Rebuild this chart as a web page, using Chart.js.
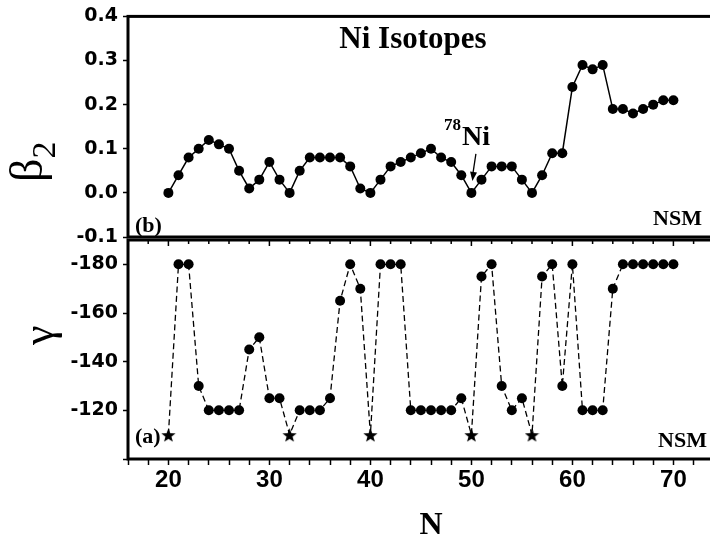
<!DOCTYPE html>
<html>
<head>
<meta charset="utf-8">
<script src="https://cdn.jsdelivr.net/npm/chart.js@4"></script>
<style>
    html, body { margin: 0; padding: 0; background: #fff; overflow: hidden; }
    #wrap { position: relative; width: 710px; height: 546px; overflow: hidden; }
    #wrap canvas { position: absolute; left: 0; top: 0; }
</style>
</head>
<body>
<div id="wrap">
    <canvas id="chart-gamma" width="750" height="546"></canvas>
    <canvas id="chart-beta" width="750" height="546"></canvas>
</div>
<script>
/* Ni isotopes — deformation beta2 (top) and gamma (bottom) vs neutron number */

const NEUTRONS = [20, 21, 22, 23, 24, 25, 26, 27, 28, 29,
                  30, 31, 32, 33, 34, 35, 36, 37, 38, 39,
                  40, 41, 42, 43, 44, 45, 46, 47, 48, 49,
                  50, 51, 52, 53, 54, 55, 56, 57, 58, 59,
                  60, 61, 62, 63, 64, 65, 66, 67, 68, 69, 70];

const BETA2 = [0.00, 0.04, 0.08, 0.10, 0.12, 0.11, 0.10, 0.05, 0.01, 0.03,
               0.07, 0.03, 0.00, 0.05, 0.08, 0.08, 0.08, 0.08, 0.06, 0.01,
               0.00, 0.03, 0.06, 0.07, 0.08, 0.09, 0.10, 0.08, 0.07, 0.04,
               0.00, 0.03, 0.06, 0.06, 0.06, 0.03, 0.00, 0.04, 0.09, 0.09,
               0.24, 0.29, 0.28, 0.29, 0.19, 0.19, 0.18, 0.19, 0.20, 0.21, 0.21];

const GAMMA = [-110, -180, -180, -130, -120, -120, -120, -120, -145, -150,
               -125, -125, -110, -120, -120, -120, -125, -165, -180, -170,
               -110, -180, -180, -180, -120, -120, -120, -120, -120, -125,
               -110, -175, -180, -130, -120, -125, -110, -175, -180, -130,
               -180, -120, -120, -120, -170, -180, -180, -180, -180, -180, -180];

// spherical (magic) points drawn as stars
const STAR_N = [20, 32, 40, 50, 56];

const X_LABELS = [20, 30, 40, 50, 60, 70];
const BETA_LABELS = [-0.1, 0.0, 0.1, 0.2, 0.3, 0.4];
const GAMMA_LABELS = [-180, -160, -140, -120];

const SERIF = '"Liberation Serif", "Times New Roman", serif';

// ─── helpers ───────────────────────────────────────────────

function makeStar(size) {
    const c = document.createElement('canvas');
    c.width = c.height = size;
    const g = c.getContext('2d');
    const R = size / 2, r = R * 0.42;
    g.beginPath();
    for (let i = 0; i < 10; i++) {
        const a = -Math.PI / 2 + i * Math.PI / 5;
        const rad = i % 2 ? r : R;
        g.lineTo(R + rad * Math.cos(a), R + 1 + rad * Math.sin(a));
    }
    g.closePath();
    g.fillStyle = '#000';
    g.fill();
    return c;
}

function rotatedText(ctx, text, font, x, y) {
    ctx.save();
    ctx.translate(x, y);
    ctx.rotate(-Math.PI / 2);
    ctx.font = font;
    ctx.textAlign = 'left';
    ctx.textBaseline = 'alphabetic';
    ctx.fillText(text, 0, 0);
    const w = ctx.measureText(text).width;
    ctx.restore();
    return w;
}

const frame = {
    id: 'frame',
    afterDraw(chart) {
        const { ctx, chartArea: a } = chart;
        ctx.save();
        ctx.strokeStyle = '#000';
        ctx.lineWidth = 3;
        ctx.strokeRect(a.left, a.top, a.right - a.left, a.bottom - a.top);
        ctx.restore();
    }
};

const betaNotes = {
    id: 'betaNotes',
    afterDraw(chart) {
        const { ctx } = chart;
        const xs = chart.scales.x, ys = chart.scales.y;
        ctx.save();
        ctx.fillStyle = '#000';
        ctx.strokeStyle = '#000';

        ctx.textAlign = 'center';
        ctx.textBaseline = 'alphabetic';
        ctx.font = 'bold 31px ' + SERIF;
        ctx.fillText('Ni Isotopes', 413, 48);

        ctx.textAlign = 'left';
        ctx.font = 'bold 17px ' + SERIF;
        ctx.fillText('78', 444, 130);
        ctx.font = 'bold 28px ' + SERIF;
        ctx.fillText('Ni', 462, 145);

        // arrow to the 78Ni point
        const tx = xs.getPixelForValue(50) + 1;
        const ty = ys.getPixelForValue(0) - 12;
        const sx = tx + 3.5, sy = ty - 27;
        ctx.lineWidth = 1.3;
        ctx.beginPath();
        ctx.moveTo(sx, sy);
        ctx.lineTo(tx, ty - 4);
        ctx.stroke();
        const ang = Math.atan2(ty - sy, tx - sx);
        ctx.beginPath();
        ctx.moveTo(tx, ty);
        ctx.lineTo(tx - 9 * Math.cos(ang) + 3.5 * Math.sin(ang), ty - 9 * Math.sin(ang) - 3.5 * Math.cos(ang));
        ctx.lineTo(tx - 9 * Math.cos(ang) - 3.5 * Math.sin(ang), ty - 9 * Math.sin(ang) + 3.5 * Math.cos(ang));
        ctx.closePath();
        ctx.fill();

        ctx.font = 'bold 22px ' + SERIF;
        ctx.fillText('(b)', 135, 232);
        ctx.textAlign = 'right';
        ctx.fillText('NSM', 702, 225);

        // axis title beta_2
        const w = rotatedText(ctx, 'β', '46px ' + SERIF, 42, 182);
        rotatedText(ctx, '2', '34px ' + SERIF, 55, 182 - w);
        ctx.restore();
    }
};

const gammaNotes = {
    id: 'gammaNotes',
    afterDraw(chart) {
        const { ctx, chartArea: a } = chart;
        const xs = chart.scales.x;
        ctx.save();
        ctx.fillStyle = '#000';
        ctx.strokeStyle = '#000';

        // inward ticks on the upper edge
        ctx.lineWidth = 1.5;
        xs.ticks.forEach(t => {
            const px = xs.getPixelForValue(t.value);
            const len = t.value % 10 === 0 ? 6 : 4;
            ctx.beginPath();
            ctx.moveTo(px, a.top);
            ctx.lineTo(px, a.top + len);
            ctx.stroke();
        });

        ctx.textBaseline = 'alphabetic';
        ctx.font = 'bold 22px ' + SERIF;
        ctx.textAlign = 'left';
        ctx.fillText('(a)', 135, 443);
        ctx.textAlign = 'right';
        ctx.fillText('NSM', 707, 447);

        rotatedText(ctx, 'γ', '44px ' + SERIF, 53, 345);
        ctx.restore();
    }
};

const fixedY = scale => { scale.width = 128; };

// ─── beta_2 panel ──────────────────────────────────────────

new Chart(document.getElementById('chart-beta'), {
    type: 'line',
    data: {
        datasets: [{
            data: NEUTRONS.map((n, i) => ({ x: n, y: BETA2[i] })),
            borderColor: '#000',
            borderWidth: 1.5,
            backgroundColor: '#000',
            pointRadius: 5,
            pointBorderWidth: 0,
            pointBackgroundColor: '#000',
            tension: 0,
        }]
    },
    options: {
        responsive: false,
        animation: false,
        events: [],
        layout: { padding: { top: 15, bottom: 309, left: 0, right: 16 } },
        plugins: { legend: { display: false }, tooltip: { enabled: false } },
        scales: {
            x: { type: 'linear', min: 16, max: 76, display: false },
            y: {
                min: -0.1, max: 0.4,
                afterFit: fixedY,
                border: { display: false },
                grid: { drawOnChartArea: false, drawTicks: true, tickLength: 5, tickWidth: 1.5, tickColor: '#000' },
                ticks: {
                    stepSize: 0.05,
                    padding: 5,
                    color: '#000',
                    font: { family: '"DejaVu Sans", sans-serif', size: 19, weight: 'bold' },
                    callback: v => {
                        const r = Math.round(v * 100);
                        return r % 10 === 0 && BETA_LABELS.includes(r / 100) ? (r / 100).toFixed(1) : '';
                    },
                },
            },
        },
    },
    plugins: [frame, betaNotes],
});

// ─── gamma panel ───────────────────────────────────────────

const star = makeStar(15);

new Chart(document.getElementById('chart-gamma'), {
    type: 'line',
    data: {
        datasets: [{
            data: NEUTRONS.map((n, i) => ({ x: n, y: GAMMA[i] })),
            borderColor: '#000',
            borderWidth: 1.3,
            borderDash: [6, 3.5],
            backgroundColor: '#000',
            pointRadius: 5,
            pointBorderWidth: 0,
            pointBackgroundColor: '#000',
            pointStyle: c => STAR_N.includes(NEUTRONS[c.dataIndex]) ? star : 'circle',
            tension: 0,
        }]
    },
    options: {
        responsive: false,
        animation: false,
        events: [],
        layout: { padding: { top: 240, bottom: 0, left: 0, right: 16 } },
        plugins: { legend: { display: false }, tooltip: { enabled: false } },
        scales: {
            x: {
                type: 'linear', min: 16, max: 76,
                afterFit: scale => { scale.height = 87; },
                border: { display: false },
                grid: { drawOnChartArea: false, drawTicks: true, tickLength: 6, tickWidth: 1.5, tickColor: '#000' },
                ticks: {
                    stepSize: 2,
                    autoSkip: false,
                    maxRotation: 0,
                    padding: 1,
                    color: '#000',
                    font: { family: '"Liberation Sans", Arial, sans-serif', size: 24, weight: 'bold' },
                    callback: v => X_LABELS.includes(v) ? String(v) : '',
                },
                title: {
                    display: true,
                    text: 'N',
                    color: '#000',
                    font: { family: SERIF, size: 32, weight: 'bold' },
                    padding: { top: 0, bottom: 1 },
                },
            },
            y: {
                min: -190, max: -100,
                reverse: true,
                afterFit: fixedY,
                border: { display: false },
                grid: { drawOnChartArea: false, drawTicks: true, tickLength: 5, tickWidth: 1.5, tickColor: '#000' },
                ticks: {
                    stepSize: 10,
                    padding: 5,
                    color: '#000',
                    font: { family: '"DejaVu Sans", sans-serif', size: 19, weight: 'bold' },
                    callback: v => GAMMA_LABELS.includes(v) ? String(v) : '',
                },
            },
        },
    },
    plugins: [frame, gammaNotes],
});
</script>
</body>
</html>
